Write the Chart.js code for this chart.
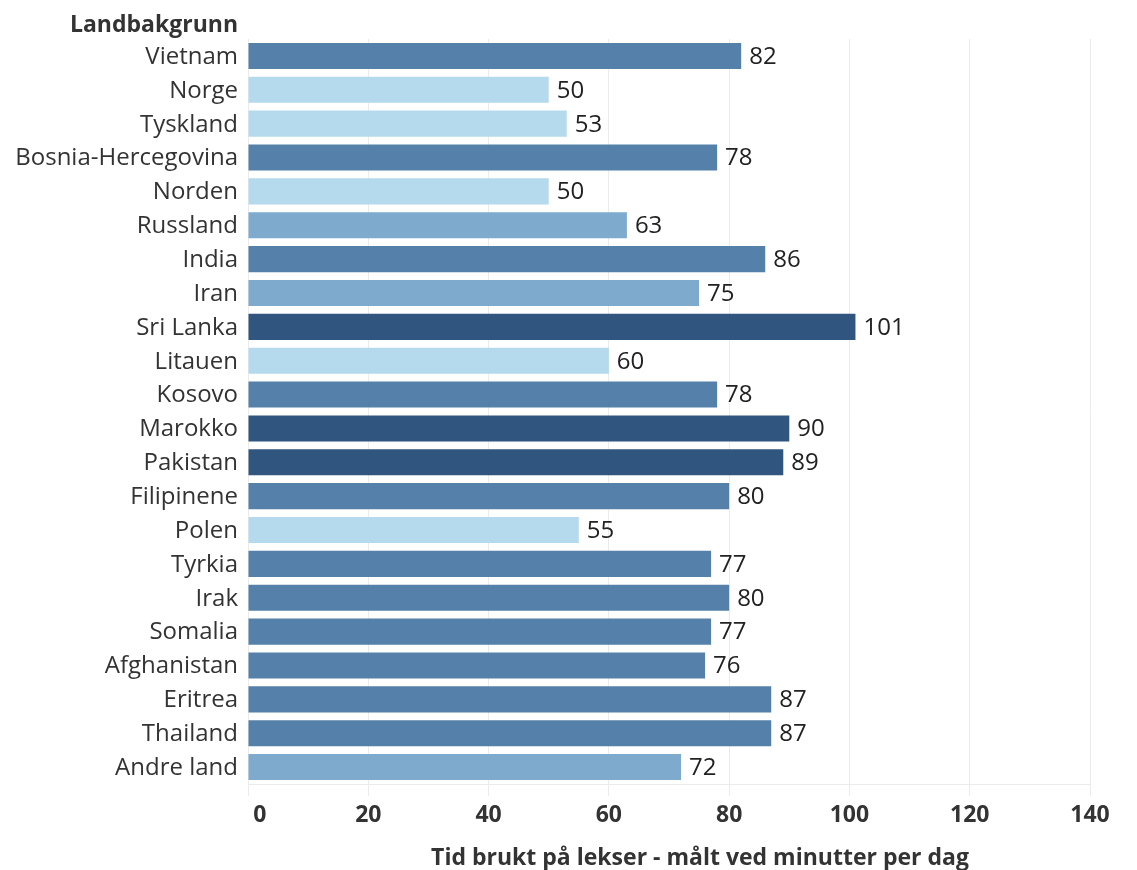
<!DOCTYPE html>
<html><head><meta charset="utf-8">
<script src="https://cdn.jsdelivr.net/npm/chart.js@4/dist/chart.umd.min.js"></script>
<style>html,body{margin:0;padding:0;background:#fff;}#wrap{width:1137px;height:870px;}</style>
</head><body><div id="wrap"><canvas id="c" width="1137" height="870"></canvas></div>
<script>
const categories = ["Vietnam","Norge","Tyskland","Bosnia-Hercegovina","Norden","Russland","India","Iran","Sri Lanka","Litauen","Kosovo","Marokko","Pakistan","Filipinene","Polen","Tyrkia","Irak","Somalia","Afghanistan","Eritrea","Thailand","Andre land"];
const values = [82,50,53,78,50,63,86,75,101,60,78,90,89,80,55,77,80,77,76,87,87,72];
const xTicks = [0,20,40,60,80,100,120,140];
const yTitle = "Landbakgrunn";
const xTitle = "Tid brukt på lekser - målt ved minutter per dag";

function colorFor(v){
  if (v >= 89) return "#30557e";
  if (v >= 76) return "#5580aa";
  if (v > 60) return "#7eaace";
  return "#b5daed";
}
const FONT = "'Open Sans', sans-serif";

const extras = {
  id: 'extras',
  afterDatasetsDraw(chart){
    const ctx = chart.ctx;
    const meta = chart.getDatasetMeta(0);
    ctx.save();
    ctx.font = "24px " + FONT;
    ctx.fillStyle = "#222";
    ctx.textBaseline = "middle";
    ctx.textAlign = "left";
    meta.data.forEach((bar, i) => {
      ctx.fillText(String(values[i]), bar.x + 8, bar.y + 1);
    });
    ctx.font = "bold 23px " + FONT;
    ctx.fillStyle = "#333";
    ctx.textAlign = "right";
    ctx.fillText(yTitle, 238, 25);
    ctx.textAlign = "center";
    ctx.fillText(xTitle, 700, 858);
    ctx.restore();
  }
};

new Chart(document.getElementById('c'), {
  type: 'bar',
  data: {
    labels: categories,
    datasets: [{
      data: values,
      backgroundColor: values.map(colorFor),
      borderWidth: 0,
      barPercentage: 0.77,
      categoryPercentage: 1.0
    }]
  },
  options: {
    indexAxis: 'y',
    responsive: false,
    animation: false,
    devicePixelRatio: 1,
    layout: { padding: { top: 39, right: 47, left: 0, bottom: 0 } },
    plugins: { legend: { display: false }, tooltip: { enabled: false }, title: { display: false } },
    scales: {
      x: {
        min: 0, max: 140,
        afterBuildTicks(scale){ scale.ticks = xTicks.map(v => ({ value: v })); },
        afterFit(scale){ scale.height = 86; },
        grid: { color: "#ebebeb", lineWidth: 1, tickLength: 12, drawTicks: true, tickColor: "#ebebeb" },
        border: { display: true, color: "#ebebeb" },
        ticks: {
          padding: 6,
          color: "#333",
          font: { family: FONT, size: 23, weight: 'bold' },
          callback: (v, i) => (v === 0 ? "    " : "") + String(v)
        }
      },
      y: {
        afterFit(scale){ scale.width = 248; },
        grid: { display: false, drawTicks: false },
        border: { display: false },
        ticks: {
          padding: 10,
          labelOffset: 1,
          color: "#333",
          font: { family: FONT, size: 24 }
        }
      }
    }
  },
  plugins: [extras]
});
</script></body></html>
